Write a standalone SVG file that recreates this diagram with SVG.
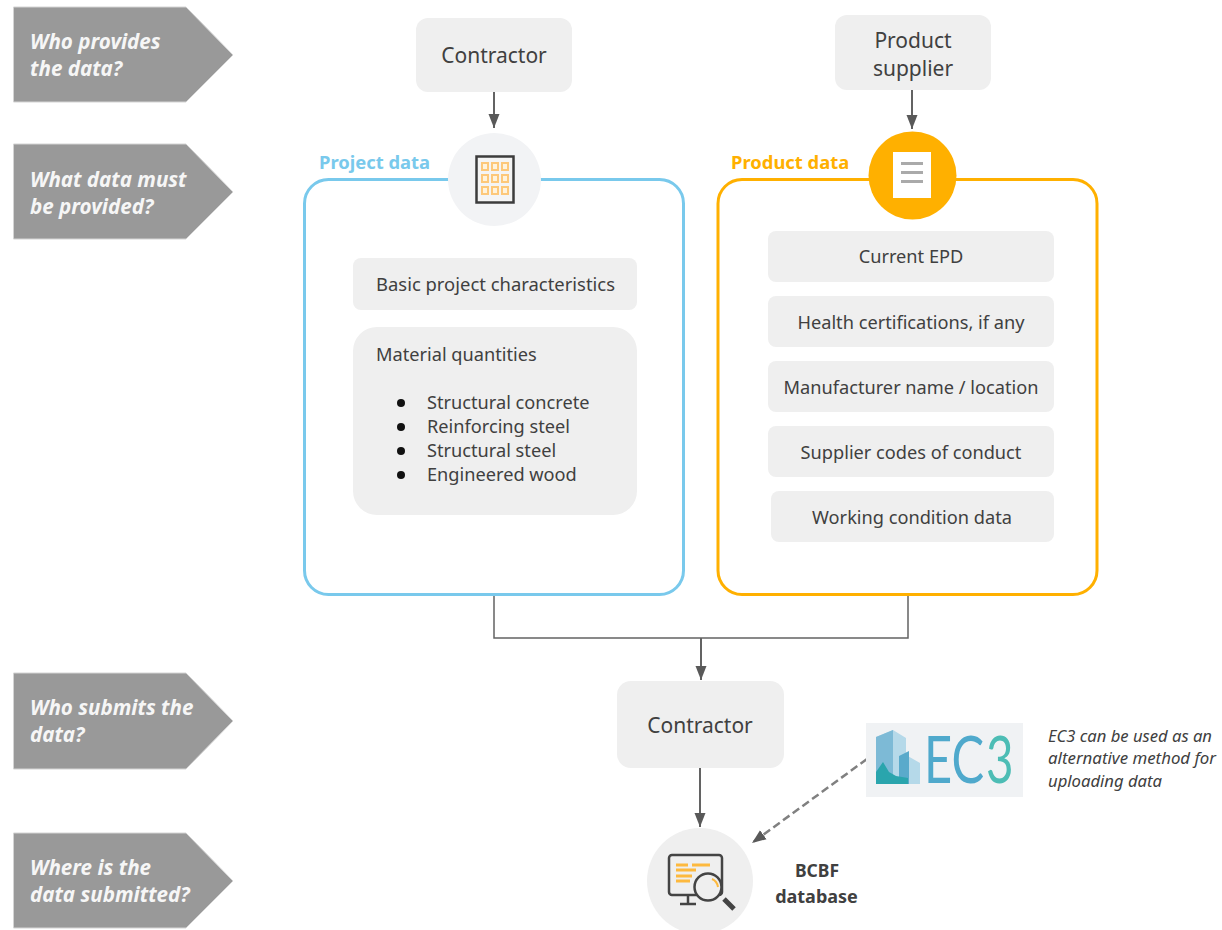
<svg xmlns="http://www.w3.org/2000/svg" width="1222" height="930" viewBox="0 0 1222 930">
<style>
text{font-family:"Noto Sans","Open Sans","DejaVu Sans",sans-serif;fill:#404040}
.q{fill:#999;stroke:#d4d4d4;stroke-width:1}
.qt{fill:#f6f6f6;font-size:20.6px;font-weight:700;font-style:italic}
.b{fill:#efefef}
.t{font-size:18.2px;text-anchor:middle}
.l{font-size:18.2px}
.h{font-size:21px;text-anchor:middle}
.c{fill:none;stroke:#636363;stroke-width:2}
.e{font-size:66px;font-family:Lato,"Liberation Sans",sans-serif}
</style>
<defs>
<marker id="a" markerWidth="15" markerHeight="12" refX="14" refY="6" orient="auto" markerUnits="userSpaceOnUse"><path d="M0 0.500L14 6L0 11.500Z" fill="#595959"/></marker>
</defs>
<rect width="1222" height="930" fill="#fff"/>
<g id="q1"><polygon class="q" points="13.500,7 186,7 233,55 186,102 13.500,102"/><text class="qt" x="30" y="49">Who provides</text><text class="qt" x="30" y="76">the data?</text></g>
<g id="q2"><polygon class="q" points="13.500,144 186,144 233,192 186,239 13.500,239"/><text class="qt" x="30" y="187">What data must</text><text class="qt" x="30" y="214">be provided?</text></g>
<g id="q3"><polygon class="q" points="13.500,673 186,673 233,721 186,769 13.500,769"/><text class="qt" x="30" y="715">Who submits the</text><text class="qt" x="30" y="742">data?</text></g>
<g id="q4"><polygon class="q" points="13.500,833 186,833 233,881 186,928 13.500,928"/><text class="qt" x="30" y="875">Where is the</text><text class="qt" x="30" y="902">data submitted?</text></g>
<g id="connectors">
<path class="c" d="M494 92V128" marker-end="url(#a)"/>
<path class="c" d="M912 90V129" marker-end="url(#a)"/>
<path d="M494 596V638H908V596" fill="none" stroke="#636363" stroke-width="1.500"/>
<path class="c" d="M701 638V680" marker-end="url(#a)"/>
<path class="c" d="M700 767V827" marker-end="url(#a)"/>
<path d="M867 759L752 843" fill="none" stroke="#808080" stroke-width="2.500" stroke-dasharray="8 4" marker-end="url(#a)"/>
</g>
<g id="contractor1"><rect class="b" x="416" y="18" width="156" height="74" rx="12"/><text class="h" x="494" y="63">Contractor</text></g>
<g id="supplier"><rect class="b" x="835" y="15" width="156" height="75" rx="12"/><text class="h" x="913" y="48">Product</text><text class="h" x="913" y="76">supplier</text></g>
<g id="project">
<rect x="304.500" y="179.500" width="379" height="415" rx="24" fill="#fff" stroke="#79c9ec" stroke-width="3"/>
<text x="319" y="169" font-size="18.400" font-weight="700" style="fill:#79c9ec">Project data</text>
<circle cx="494.500" cy="179.500" r="46.500" fill="#f2f3f5"/>
<rect x="476.500" y="156.500" width="37" height="46" fill="#f4f4f4" stroke="#3c3c3c" stroke-width="2.500"/>
<g fill="#fff3dc" stroke="#fdc87a" stroke-width="2"><rect x="482" y="163" width="6" height="7"/><rect x="492" y="163" width="6" height="7"/><rect x="502" y="163" width="6" height="7"/><rect x="482" y="175" width="6" height="7"/><rect x="492" y="175" width="6" height="7"/><rect x="502" y="175" width="6" height="7"/><rect x="482" y="187" width="6" height="7"/><rect x="492" y="187" width="6" height="7"/><rect x="502" y="187" width="6" height="7"/></g>
<rect class="b" x="353" y="258" width="284" height="52" rx="8"/>
<text class="t" x="495.500" y="291" textLength="239" lengthAdjust="spacingAndGlyphs">Basic project characteristics</text>
<rect class="b" x="353" y="327" width="284" height="188" rx="24"/>
<text class="l" x="376" y="361">Material quantities</text>
<g fill="#111"><circle cx="401" cy="403" r="4"/><circle cx="401" cy="427" r="4"/><circle cx="401" cy="451" r="4"/><circle cx="401" cy="475" r="4"/></g>
<text class="l" x="427" y="409">Structural concrete</text><text class="l" x="427" y="433">Reinforcing steel</text><text class="l" x="427" y="457">Structural steel</text><text class="l" x="427" y="481">Engineered wood</text>
</g>
<g id="product">
<rect x="718" y="179.500" width="379" height="415" rx="24" fill="#fff" stroke="#ffb000" stroke-width="3"/>
<text x="731" y="169" font-size="18.400" font-weight="700" style="fill:#ffb000">Product data</text>
<circle cx="912.500" cy="175.500" r="44" fill="#ffb000"/>
<rect x="893" y="152" width="38" height="46" fill="#fff"/>
<path d="M901 163.500H923M901 172.500H923M901 181.500H923" stroke="#aaa" stroke-width="3"/>
<rect class="b" x="768" y="231" width="286" height="51" rx="8"/><text class="t" x="911" y="263">Current EPD</text>
<rect class="b" x="768" y="296" width="286" height="51" rx="8"/><text class="t" x="911" y="329">Health certifications, if any</text>
<rect class="b" x="768" y="361" width="286" height="51" rx="8"/><text class="t" x="911" y="394">Manufacturer name / location</text>
<rect class="b" x="768" y="426" width="286" height="51" rx="8"/><text class="t" x="911" y="459">Supplier codes of conduct</text>
<rect class="b" x="771" y="491" width="283" height="51" rx="8"/><text class="t" x="912" y="524">Working condition data</text>
</g>
<g id="contractor2"><rect class="b" x="617" y="681" width="167" height="87" rx="14"/><text class="h" x="700" y="733">Contractor</text></g>
<g id="ec3">
<rect x="866" y="723" width="157" height="74" fill="#f0f2f4"/>
<path d="M876 784V737L893 730L906 738V755L920 763V784Z" fill="#b5d9e9"/>
<path d="M876 784V737L893 730V784Z" fill="#7dbad6"/>
<path d="M899 784V756L909 751V784Z" fill="#5aaacb"/>
<path d="M876 784V772L883 762L889 772L896 776L908 778V784Z" fill="#2aa5ad"/>
<text class="e" transform="translate(924 783) scale(.74 1)" style="fill:#4fa9cc">EC</text>
<text class="e" transform="translate(986 783) scale(.72 1)" style="fill:#4dbdb5">3</text>
</g>
<g id="ec3note" font-size="15.500" font-style="italic"><text x="1048" y="742" textLength="164" lengthAdjust="spacingAndGlyphs">EC3 can be used as an</text><text x="1048" y="764" textLength="168" lengthAdjust="spacingAndGlyphs">alternative method for</text><text x="1048" y="787" textLength="114" lengthAdjust="spacingAndGlyphs">uploading data</text></g>
<g id="database">
<circle cx="700" cy="881" r="53" fill="#efefef"/>
<rect x="669" y="855" width="53" height="40" rx="3" fill="none" stroke="#444" stroke-width="2.500"/>
<path d="M688 895V904M680 904H696" stroke="#444" stroke-width="2.500" fill="none"/>
<path d="M676 865H688M692 865H710M676 870H696M676 876H692M676 881H690" stroke="#fdb93e" stroke-width="3"/>
<circle cx="708" cy="887" r="13.500" fill="#efefef" stroke="#444" stroke-width="2.500"/>
<path d="M712 879Q717 881 718 887" fill="none" stroke="#fdb93e" stroke-width="2"/>
<path d="M724 899L734 909" stroke="#444" stroke-width="5"/>
<text x="817" y="877" font-size="17.500" font-weight="700" text-anchor="middle">BCBF</text>
<text x="816.500" y="903" font-size="18" font-weight="700" text-anchor="middle">database</text>
</g>
</svg>
